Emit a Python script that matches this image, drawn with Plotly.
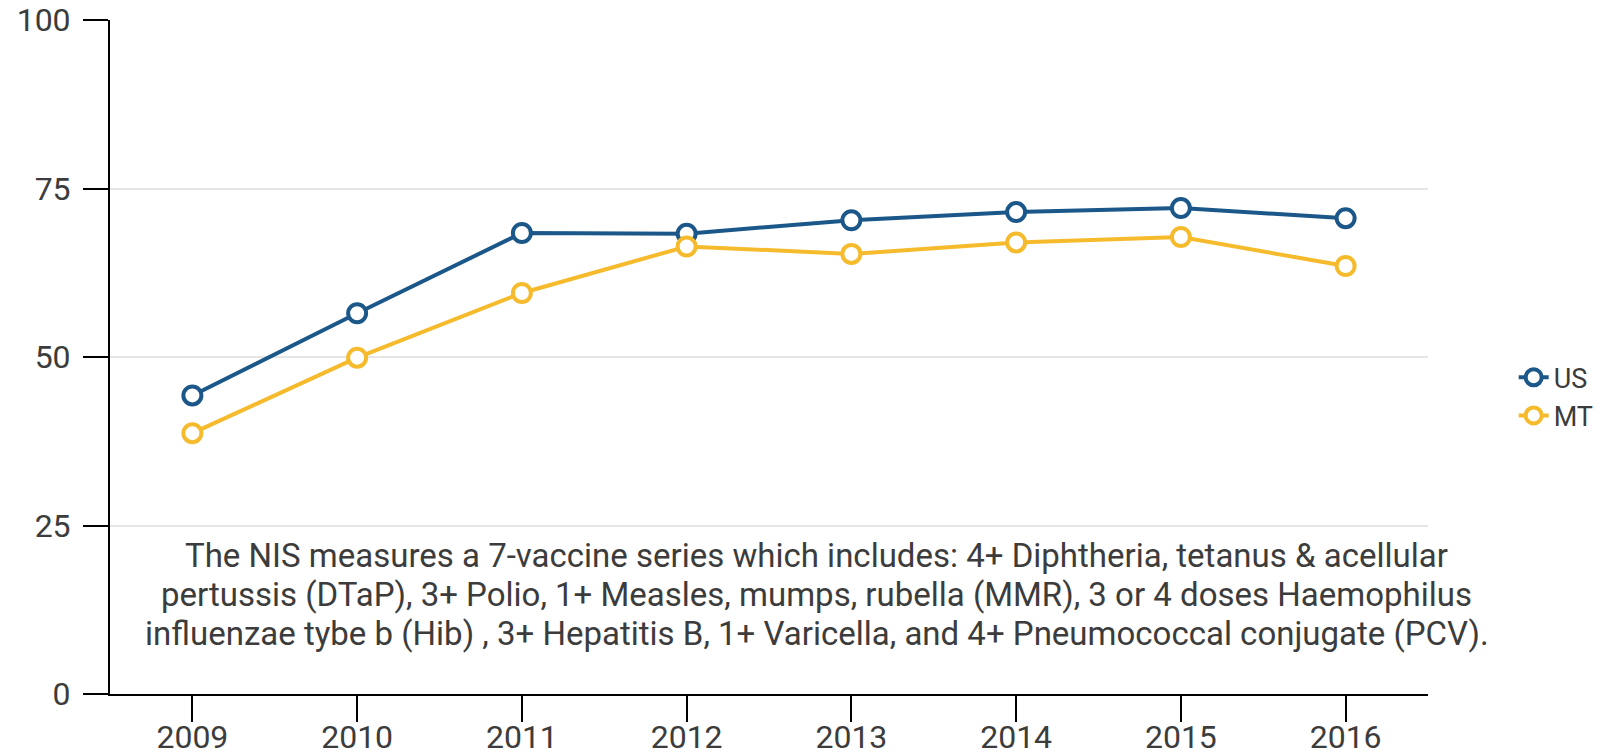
import plotly.graph_objects as go

years = [2009, 2010, 2011, 2012, 2013, 2014, 2015, 2016]
us_values = [44.3, 56.5, 68.4, 68.3, 70.3, 71.5, 72.1, 70.6]
mt_values = [38.7, 49.9, 59.5, 66.4, 65.3, 67.0, 67.8, 63.5]
y_ticks = [0, 25, 50, 75, 100]
note_lines = [
    "The NIS measures a 7-vaccine series which includes: 4+ Diphtheria, tetanus & acellular",
    "pertussis (DTaP), 3+ Polio, 1+ Measles, mumps, rubella (MMR), 3 or 4 doses Haemophilus",
    "influenzae tybe b (Hib) , 3+ Hepatitis B, 1+ Varicella, and 4+ Pneumococcal conjugate (PCV).",
]
note_line_y = [20.5, 14.8, 9.05]

US_COLOR = "#1b5788"
MT_COLOR = "#f6bb2d"
TEXT = "#3c3c3c"
FONT = "Roboto, sans-serif"

fig = go.Figure()
for name, vals, col in [("US", us_values, US_COLOR), ("MT", mt_values, MT_COLOR)]:
    fig.add_trace(go.Scatter(
        x=years, y=vals, name=name, mode="lines+markers",
        line=dict(color=col, width=4),
        marker=dict(size=18, color="white", line=dict(color=col, width=4)),
    ))

for line_text, yv in zip(note_lines, note_line_y):
    fig.add_annotation(
        x=0.5364, xref="paper", y=yv, yref="y", text=line_text, showarrow=False,
        align="center", xanchor="center", yanchor="middle",
        font=dict(family=FONT, size=33, color=TEXT),
    )

fig.update_layout(
    width=1600, height=756,
    margin=dict(l=110, r=172, t=20, b=62, autoexpand=False),
    paper_bgcolor="white", plot_bgcolor="white",
    font=dict(family=FONT, color=TEXT),
    legend=dict(x=1.065, y=0.441, xanchor="left", yanchor="middle",
                font=dict(size=27, color=TEXT), tracegroupgap=0,
                itemwidth=30, bgcolor="rgba(0,0,0,0)"),
    showlegend=True,
)
fig.update_xaxes(
    range=[2008.5, 2016.5], tickvals=years, ticktext=[str(y) for y in years],
    showline=True, linecolor="black", linewidth=2,
    ticks="outside", ticklen=26, tickwidth=2, tickcolor="black",
    showgrid=False, zeroline=False, automargin=False, ticklabeloverflow="allow",
    ticklabelstandoff=-12,
    tickfont=dict(size=32, color=TEXT),
)
fig.update_yaxes(
    range=[0, 100], tickvals=y_ticks,
    showline=True, linecolor="black", linewidth=2,
    ticks="outside", ticklen=25, tickwidth=2, tickcolor="black",
    showgrid=True, gridcolor="#e6e6e6", gridwidth=2, zeroline=False,
    automargin=False, ticklabelstandoff=6, ticklabeloverflow="allow",
    tickfont=dict(size=32, color=TEXT),
)

fig.write_html("out.html", config={"displayModeBar": False},
               post_script="document.body.style.margin='0';")
